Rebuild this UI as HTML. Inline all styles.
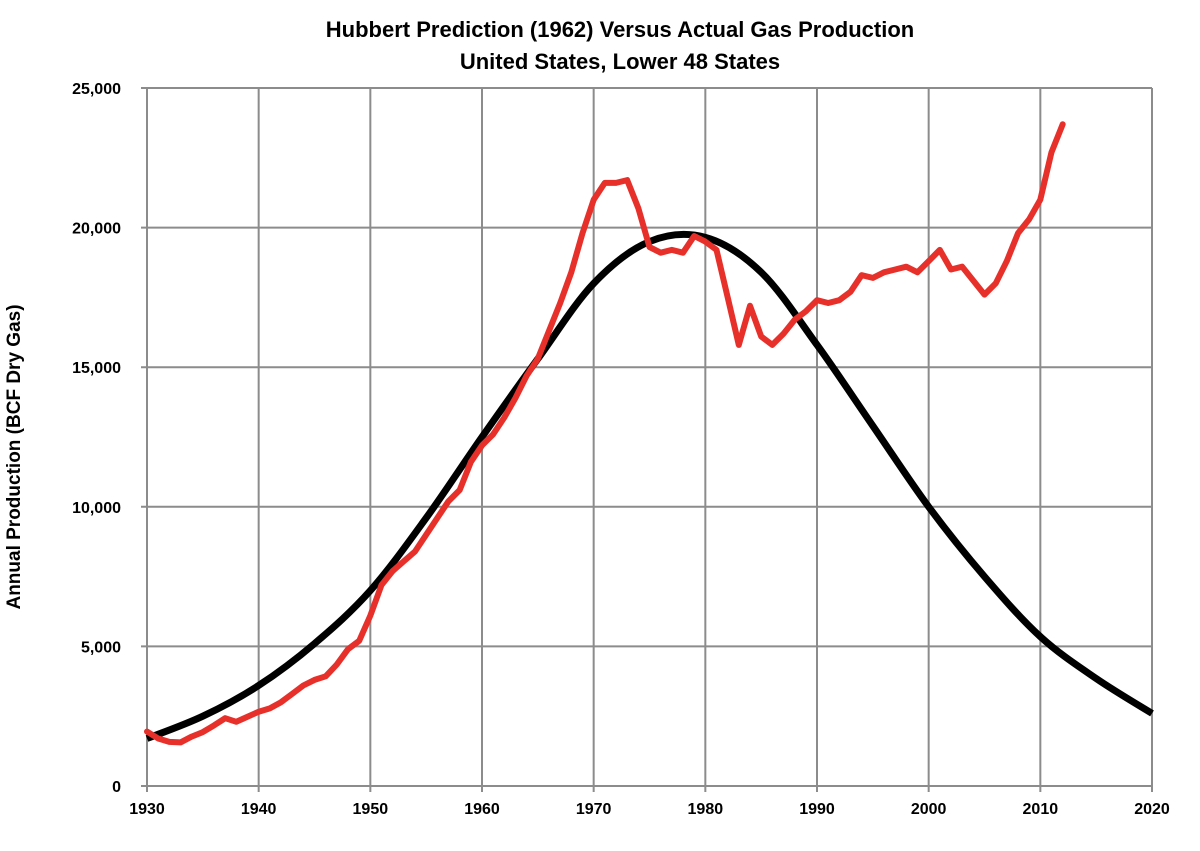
<!DOCTYPE html>
<html><head><meta charset="utf-8"><style>
body{margin:0;background:#fff;font-family:"Liberation Sans",Arial,sans-serif}
svg text{font-family:"Liberation Sans",Arial,sans-serif;font-weight:bold;fill:#000}
</style></head><body>
<svg id="chart" width="1200" height="846" viewBox="0 0 1200 846">
<text x="620" y="37" font-size="22" text-anchor="middle">Hubbert Prediction (1962) Versus Actual Gas Production</text>
<text x="620" y="69" font-size="22" text-anchor="middle">United States, Lower 48 States</text>
<text transform="translate(20,457) rotate(-90)" font-size="19" text-anchor="middle">Annual Production (BCF Dry Gas)</text>
<g id="grid"></g>
<g id="ticks"></g>
<path id="hub" fill="none" stroke="#000" stroke-width="7"/>
<path id="act" fill="none" stroke="#e8302a" stroke-width="6" stroke-linejoin="round" stroke-linecap="round"/>
</svg>
<script>
const xTicks=[1930,1940,1950,1960,1970,1980,1990,2000,2010,2020];
const yTicks=[0,5000,10000,15000,20000,25000];
const yTickLabels=["0","5,000","10,000","15,000","20,000","25,000"];
const actualYears=[];for(let y=1930;y<=2012;y++)actualYears.push(y);
const actualValues=[1950,1700,1580,1560,1770,1930,2170,2430,2300,2480,2660,2780,3000,3300,3600,3800,3930,4350,4900,5200,6100,7200,7700,8050,8400,9000,9600,10200,10600,11600,12200,12600,13200,13900,14700,15300,16300,17300,18400,19800,21000,21600,21600,21700,20700,19300,19100,19200,19100,19700,19500,19200,17500,15800,17200,16100,15800,16200,16700,17000,17400,17300,17400,17700,18300,18200,18400,18500,18600,18400,18800,19200,18500,18600,18100,17600,18000,18800,19800,20300,21000,22700,23700];
const hubbertYears=[1930,1935,1940,1945,1950,1955,1960,1965,1970,1975,1980,1985,1990,1995,2000,2005,2010,2015,2020];
const hubbertValues=[1700,2500,3600,5100,7000,9600,12500,15300,18000,19500,19650,18400,15800,12900,10000,7500,5350,3850,2600];
const X0=147,X1=1152,Y0=786,Y1=88;
const xs=v=>X0+(v-1930)/90*(X1-X0);
const ys=v=>Y0-v/25000*(Y0-Y1);
const NS="http://www.w3.org/2000/svg";
const grid=document.getElementById('grid'),ticks=document.getElementById('ticks');
function mk(tag,attrs,parent){const e=document.createElementNS(NS,tag);for(const k in attrs)e.setAttribute(k,attrs[k]);parent.appendChild(e);return e;}
xTicks.forEach(t=>{
 const l=mk('line',{x1:xs(t),x2:xs(t),y1:Y1,y2:Y0+6,stroke:'#8c8c8c','stroke-width':2},grid);
 
 
 const tx=mk('text',{x:xs(t),y:Y0+28,'font-size':16,'text-anchor':'middle'},ticks);tx.textContent=t;
 
 
});
yTicks.forEach((t,i)=>{
 const l=mk('line',{x1:X0-6,x2:X1,y1:ys(t),y2:ys(t),stroke:'#8c8c8c','stroke-width':2},grid);
 
 
 const tx=mk('text',{x:X0-26,y:ys(t)+6,'font-size':16,'text-anchor':'end'},ticks);tx.textContent=yTickLabels[i];
 
 
});
let d='';actualYears.forEach((y,i)=>{d+=(i?'L':'M')+xs(y).toFixed(1)+','+ys(actualValues[i]).toFixed(1);});
document.getElementById('act').setAttribute('d',d);
const P=hubbertYears.map((y,i)=>[xs(y),ys(hubbertValues[i])]);
let h='M'+P[0][0]+','+P[0][1];
for(let i=0;i<P.length-1;i++){const p0=P[Math.max(0,i-1)],p1=P[i],p2=P[i+1],p3=P[Math.min(P.length-1,i+2)];
 const c1=[p1[0]+(p2[0]-p0[0])/6,p1[1]+(p2[1]-p0[1])/6],c2=[p2[0]-(p3[0]-p1[0])/6,p2[1]-(p3[1]-p1[1])/6];
 h+='C'+c1.join(',')+' '+c2.join(',')+' '+p2.join(',');}
document.getElementById('hub').setAttribute('d',h);
</script>
</body></html>
